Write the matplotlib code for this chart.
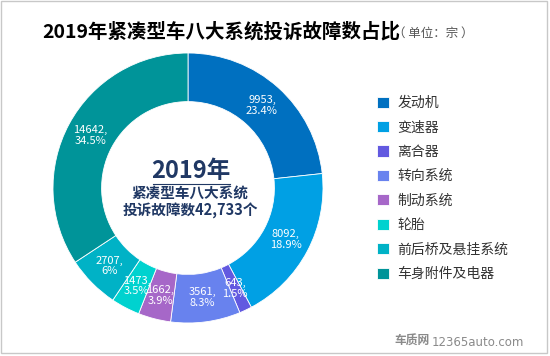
import matplotlib
matplotlib.use('Agg')
import matplotlib.pyplot as plt
from matplotlib.patches import Rectangle
from matplotlib.lines import Line2D

plt.rcParams['font.family'] = ['Noto Sans CJK SC', 'DejaVu Sans']

# data
systems = ['发动机', '变速器', '离合器', '转向系统', '制动系统', '轮胎', '前后桥及悬挂系统', '车身附件及电器']
counts = [9953, 8092, 643, 3561, 1662, 1473, 2707, 14642]
pct_labels = ['23.4%', '18.9%', '1.5%', '8.3%', '3.9%', '3.5%', '6%', '34.5%']
colors = ['#0070C0', '#00A0E4', '#6259E0', '#6882EE', '#A667C8', '#00D2CF', '#00B2C6', '#009499']

W, H = 550, 356


def fx(x):
    return x / W


def fy(y):
    return 1 - y / H


fig = plt.figure(figsize=(W / 100, H / 100), dpi=100)
fig.patch.set_facecolor('white')

# light frame round the picture
fig.add_artist(Rectangle((fx(1), fy(353)), fx(546), 352 / H, transform=fig.transFigure,
                         fill=False, edgecolor='#C8C8C8', linewidth=1))

# donut, centre (188,188) px, radius 135 px
r_px = 135
ax = fig.add_axes([fx(188 - r_px), fy(188 + r_px), 2 * r_px / W, 2 * r_px / H])
labels = [f'{c},\n{p}' for c, p in zip(counts, pct_labels)]
wedges, texts = ax.pie(counts, colors=colors, startangle=90, counterclock=False, radius=1,
                       labels=labels, labeldistance=0.82,
                       wedgeprops=dict(width=0.36, edgecolor='white', linewidth=0.6),
                       textprops=dict(color='white', fontsize=8, linespacing=1.1))
for t in texts:
    t.set_ha('center')
    t.set_va('center')
ax.set_xlim(-1, 1)
ax.set_ylim(-1, 1)
ax.axis('off')

# centre text
navy = '#203864'
fig.text(fx(191), fy(171), '2019年', fontsize=17, fontweight='bold', color=navy, ha='center', va='center')
fig.add_artist(Line2D([fx(153), fx(230)], [fy(183.5), fy(183.5)], transform=fig.transFigure,
                      color=navy, linewidth=0.8))
fig.text(fx(190), fy(193), '紧凑型车八大系统', fontsize=10.5, fontweight='bold', color=navy, ha='center', va='center')
fig.text(fx(190), fy(211), '投诉故障数42,733个', fontsize=10.5, fontweight='bold', color=navy, ha='center', va='center')

# title
fig.text(fx(42), fy(32), '2019年紧凑型车八大系统投诉故障数占比', fontsize=14, fontweight='bold',
         color='black', ha='left', va='center')
fig.text(fx(393), fy(33), '（ 单位：宗 ）', fontsize=9, color='#555555', ha='left', va='center')

# legend
fig.legend(wedges, systems, loc='upper left', bbox_to_anchor=(fx(377), fy(96)), frameon=False,
           fontsize=10, handlelength=0.85, handleheight=0.85, handletextpad=0.6,
           labelspacing=0.75, borderpad=0, borderaxespad=0, labelcolor='#333333')

# watermark
fig.text(fx(394), fy(341), '车质网', fontsize=8.5, fontweight='bold', color='#8A8A8A', ha='left', va='center')
fig.text(fx(432), fy(342), '12365auto.com', fontsize=8.5, color='#8A8A8A', ha='left', va='center',
         family='DejaVu Sans')

fig.savefig('out.png', dpi=100)
